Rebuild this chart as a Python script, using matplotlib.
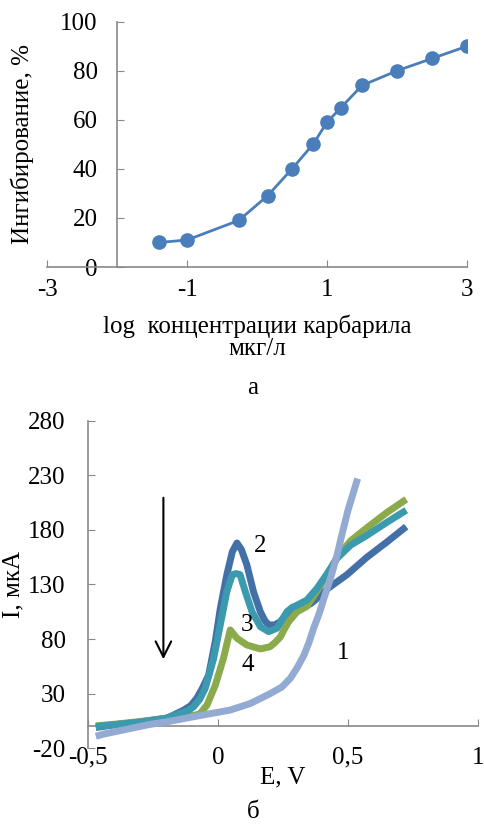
import numpy as np
import matplotlib
matplotlib.use('Agg')
import matplotlib.pyplot as plt

# panel a: inhibition vs log concentration
log_conc = [-1.4, -1.0, -0.26, 0.15, 0.5, 0.8, 1.0, 1.2, 1.5, 2.0, 2.5, 3.0]
inhibition = [10, 11, 19, 29, 40, 50, 59, 65, 74, 80, 85, 90]

# panel b: voltammograms (E in V, I in uA)
e1 = [-0.47, -0.44, -0.40, -0.33, -0.27, -0.18, -0.07, 0.047, 0.124, 0.2, 0.245,
      0.278, 0.305, 0.33, 0.35, 0.368, 0.39, 0.407, 0.432, 0.458, 0.477, 0.50, 0.537]
i1 = [-9, -7, -5, -1.5, 1.5, 5, 10, 15, 21, 30, 36, 44, 54, 65, 77, 90, 104, 117,
      135, 157, 176, 198, 227]

e2 = [-0.47, -0.40, -0.30, -0.2, -0.1835, -0.132, -0.105, -0.081, -0.06, -0.036,
      -0.0104, 0.0088, 0.034, 0.055, 0.073, 0.09, 0.111, 0.137, 0.163, 0.18, 0.195,
      0.218, 0.24, 0.26, 0.278, 0.30, 0.33, 0.36, 0.38, 0.405, 0.432, 0.496, 0.573,
      0.65, 0.724]
i2 = [-1, 1.5, 4, 7.5, 9, 15, 19, 26, 35, 47, 78, 108, 139, 160, 168, 162, 148,
      123, 105, 97, 93, 93, 96, 102, 107, 108, 109, 113, 117, 123, 128, 139, 155,
      169, 183]

e3 = [-0.47, -0.40, -0.30, -0.2, -0.145, -0.115, -0.094, -0.07, -0.049, -0.017,
      0.0088, 0.034, 0.055, 0.07, 0.085, 0.105, 0.131, 0.163, 0.195, 0.227, 0.245,
      0.265, 0.285, 0.304, 0.342, 0.381, 0.42, 0.458, 0.51, 0.573, 0.65, 0.724]
i3 = [0, 1.5, 4, 7.5, 12, 14.5, 18, 25, 35, 62, 93, 123.5, 139, 140, 139, 123.5,
      105, 91.4, 86.8, 90, 97, 105, 109, 111, 115.8, 126.5, 140, 154, 166, 175,
      187, 198]

e4 = [-0.47, -0.40, -0.30, -0.2, -0.12, -0.085, -0.068, -0.042, -0.01, 0.021, 0.047,
      0.073, 0.111, 0.163, 0.2, 0.22, 0.24, 0.255, 0.272, 0.304, 0.342, 0.381, 0.42,
      0.458, 0.51, 0.573, 0.65, 0.724]
i4 = [0.5, 2, 4.5, 7.5, 9.5, 10.5, 12, 19.7, 38, 62.4, 88.4, 80.8, 74.6, 71, 73,
      77, 82, 89, 96, 105, 110, 124, 139, 155, 170, 182, 196, 208]

curve_labels = ['1', '2', '3', '4']
label_pos = [(0.483, 67), (0.163, 165), (0.111, 93), (0.114, 56)]

plt.rcParams['font.family'] = ['Liberation Serif', 'DejaVu Serif']
plt.rcParams['font.size'] = 18
plt.rcParams['axes.unicode_minus'] = False
axis_gray = '#898989'

fig = plt.figure(figsize=(4.84, 8.25), dpi=100)

# ---- panel a ----
ax = fig.add_axes([47/484, 1 - 267/825, 420/484, 245.3/825])
ax.plot(log_conc, inhibition, '-o', color='#4A7EBB', lw=2, ms=9.5)
ax.set_xlim(-3, 3)
ax.set_ylim(0, 100)
ax.set_xticks([-3, -1, 1, 3])
ax.set_yticks(range(0, 101, 20))
ax.spines['left'].set_position(('data', -2))
for s in ['top', 'right']:
    ax.spines[s].set_visible(False)
for s in ['left', 'bottom']:
    ax.spines[s].set_color(axis_gray)
    ax.spines[s].set_linewidth(1.2)
ax.tick_params(axis='x', direction='in', length=5, color=axis_gray, pad=9)
ax.tick_params(axis='y', direction='in', length=5, color=axis_gray, pad=14)
ax.set_xlabel('log  концентрации карбарила\nмкг/л', linespacing=1.0)
ax.xaxis.set_label_coords(0.5, -0.195)
ax.set_ylabel('Ингибирование, %')
ax.yaxis.set_label_coords(-0.03, 0.5)
fig.text(253/484, 1 - 388/825, 'а', ha='center', va='center')

# ---- panel b ----
bx = fig.add_axes([88/484, 1 - 748.3/825, 390/484, 327.6/825])
kw = dict(lw=5, solid_capstyle='butt', solid_joinstyle='round')
bx.plot(e2, i2, color='#4470A8', zorder=2, **kw)
bx.plot(e4, i4, color='#8AAA4C', zorder=3, **kw)
bx.plot(e3, i3, color='#3C9AAF', zorder=4, **kw)
bx.plot(e1, i1, color='#93AAD2', zorder=5, **kw)
for txt, (x, y) in zip(curve_labels, label_pos):
    bx.text(x, y, txt, ha='center', va='center', zorder=6)
bx.annotate('', xy=(-0.21, 59), xytext=(-0.21, 212),
            arrowprops=dict(arrowstyle='->', color='black', lw=1.5, mutation_scale=28))
bx.set_xlim(-0.5, 1)
bx.set_ylim(-20, 280)
bx.set_xticks([-0.5, 0, 0.5, 1])
bx.set_yticks(range(-20, 281, 50))
bx.spines['bottom'].set_position(('data', 0))
for s in ['top', 'right']:
    bx.spines[s].set_visible(False)
for s in ['left', 'bottom']:
    bx.spines[s].set_color(axis_gray)
    bx.spines[s].set_linewidth(1.2)
bx.tick_params(axis='x', direction='in', length=5, color=axis_gray, labelbottom=False)
bx.tick_params(axis='y', direction='in', length=5, color=axis_gray, pad=16)
sec = bx.secondary_xaxis(0)
sec.set_xticks([-0.5, 0, 0.5, 1])
sec.set_xticklabels(['-0,5', '0', '0,5', '1'])
sec.tick_params(length=0, pad=-1)
sec.spines['bottom'].set_visible(False)
bx.set_xlabel('E, V')
bx.xaxis.set_label_coords(0.5, -0.055)
bx.set_ylabel('I, мкА')
bx.yaxis.set_label_coords(-0.162, 0.5)
fig.text(253/484, 1 - 812/825, 'б', ha='center', va='center')

fig.savefig('out.png', dpi=100)
